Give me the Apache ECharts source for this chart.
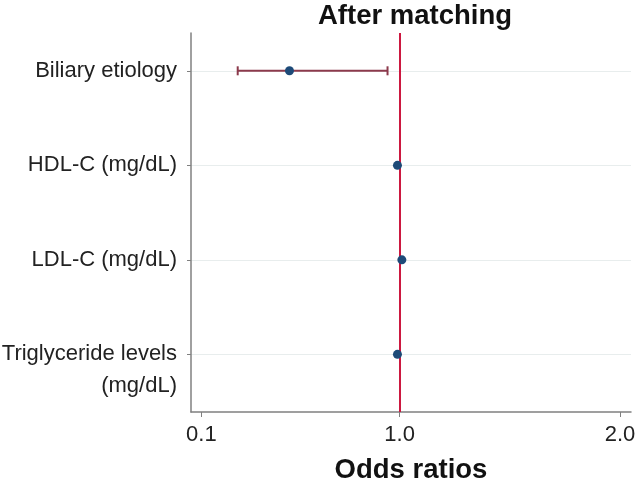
<!DOCTYPE html>
<html>
<head>
<meta charset="utf-8">
<script src="https://cdn.jsdelivr.net/npm/echarts@6/dist/echarts.min.js"></script>
<style>
  html, body { margin: 0; padding: 0; background: #fff; }
  #main { width: 635px; height: 479px; }
</style>
</head>
<body>
<div id="main"></div>
<script>
// rows from top to bottom
var categories = ['Biliary etiology', 'HDL-C (mg/dL)', 'LDL-C (mg/dL)', '\nTriglyceride levels\n(mg/dL)'];
var oddsRatio = [0.50, 0.99, 1.01, 0.99];
var ciLower = [0.265, null, null, null];
var ciUpper = [0.945, null, null, null];
var xTicks = [0.1, 1.0, 2.0];
var refValue = 1.0;

var font = 'Liberation Sans, Arial, sans-serif';
var n = categories.length;
// row i sits at y = n - i
var pointData = oddsRatio.map(function (v, i) { return [v, n - i]; });
var ciData = [];
for (var i = 0; i < n; i++) {
    if (ciLower[i] != null) ciData.push([ciLower[i], ciUpper[i], n - i]);
}

var option = {
    animation: false,
    backgroundColor: '#fff',
    title: {
        text: 'After matching',
        left: 313,
        top: -3,
        textStyle: { fontFamily: font, fontSize: 27.5, fontWeight: 'bold', color: '#111' }
    },
    grid: { left: 191, right: 4, top: 33, bottom: 67, outerBoundsMode: 'none' },
    xAxis: {
        type: 'value',
        min: 0.053,
        max: 2.05,
        name: 'Odds ratios',
        nameLocation: 'middle',
        nameGap: 44,
        nameTextStyle: { fontFamily: font, fontSize: 27.5, fontWeight: 'bold', color: '#111' },
        axisLine: { show: true, lineStyle: { color: '#808080', width: 1.5 } },
        axisTick: { show: true, length: 5, customValues: xTicks, lineStyle: { color: '#808080' } },
        axisLabel: {
            customValues: xTicks,
            margin: 12,
            fontFamily: font, fontSize: 22, color: '#222',
            formatter: function (v) { return v.toFixed(1); }
        },
        splitLine: { show: false }
    },
    yAxis: {
        type: 'value',
        min: 0.39,
        max: 4.4,
        axisLine: { show: true, lineStyle: { color: '#808080', width: 1.5 } },
        axisTick: { show: true, length: 4, customValues: [1, 2, 3, 4], lineStyle: { color: '#808080' } },
        axisLabel: {
            customValues: [1, 2, 3, 4],
            margin: 14,
            fontFamily: font, fontSize: 22, color: '#222', lineHeight: 32,
            formatter: function (v) { return categories[n - Math.round(v)]; }
        },
        splitLine: { show: true, lineStyle: { color: '#e8eded', width: 1 } }
    },
    series: [
        {
            type: 'custom',
            data: ciData,
            renderItem: function (params, api) {
                var lo = api.coord([api.value(0), api.value(2)]);
                var hi = api.coord([api.value(1), api.value(2)]);
                var h = 4.5;
                var style = { stroke: '#8c3a4c', lineWidth: 2 };
                return {
                    type: 'group',
                    children: [
                        { type: 'line', shape: { x1: lo[0], y1: lo[1], x2: hi[0], y2: hi[1] }, style: style },
                        { type: 'line', shape: { x1: lo[0], y1: lo[1] - h, x2: lo[0], y2: lo[1] + h }, style: style },
                        { type: 'line', shape: { x1: hi[0], y1: hi[1] - h, x2: hi[0], y2: hi[1] + h }, style: style }
                    ]
                };
            },
            z: 3
        },
        {
            type: 'scatter',
            data: pointData,
            symbolSize: 9,
            itemStyle: { color: '#1d4a78', opacity: 1 },
            z: 5,
            markLine: {
                silent: true,
                symbol: 'none',
                label: { show: false },
                lineStyle: { color: '#cc1840', width: 2, type: 'solid' },
                data: [{ xAxis: refValue }],
                z: 4
            }
        }
    ]
};

var myChart = echarts.init(document.getElementById('main'));
myChart.setOption(option);
</script>
</body>
</html>
